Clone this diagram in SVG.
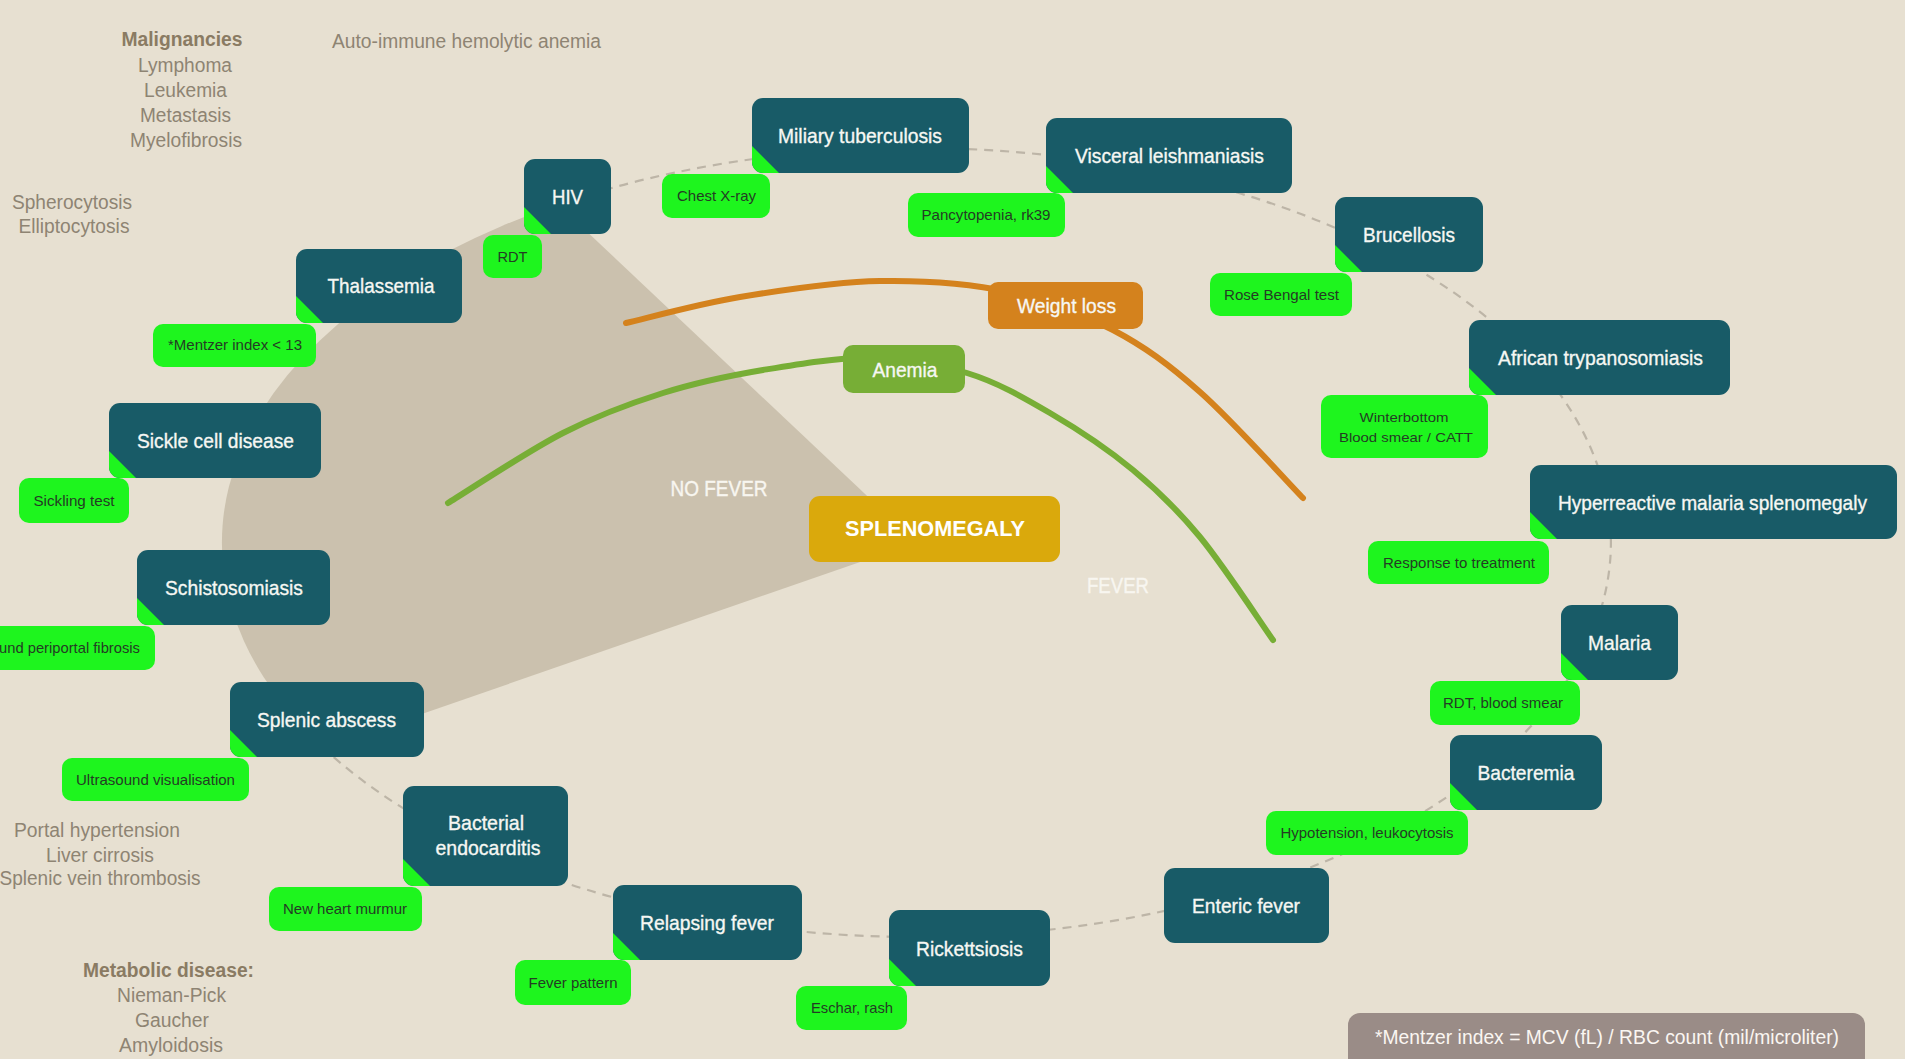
<svg xmlns="http://www.w3.org/2000/svg" width="1905" height="1059" viewBox="0 0 1905 1059">
  <defs>
    <style>
      text { font-family: "Liberation Sans Narrow", "Liberation Sans", Arial, sans-serif; }
      .bg { fill: #E7E0D1; }
      .sector { fill: #CBC1AE; }
      .ring { fill: none; stroke: #BDB5A7; stroke-width: 2.2; stroke-dasharray: 9 7; }
      .box { fill: #185B67; }
      .tip { fill: #1EF51E; }
      .badge { fill: #1EF51E; }
      .lbl { font-size: 21px; fill: #F6F7F3; stroke: #F6F7F3; stroke-width: 0.35; text-anchor: middle; }
      .tag { font-size: 14.5px; fill: #243C24; text-anchor: middle; }
      .tag2 { font-size: 13.5px; fill: #243C24; text-anchor: middle; }
      .side { font-size: 19.5px; fill: #8E8473; text-anchor: middle; }
      .head { font-size: 20px; font-weight: bold; fill: #8A7B63; text-anchor: middle; }
      .zone { font-size: 22px; fill: #F8F6F0; stroke: #F8F6F0; stroke-width: 0.4; text-anchor: middle; }
      .weight { fill: none; stroke: #D4821D; stroke-width: 6; stroke-linecap: round; }
      .anemia { fill: none; stroke: #77AE36; stroke-width: 6; stroke-linecap: round; }
    </style>
  </defs>

  <!-- page -->
  <rect class="bg" x="0" y="0" width="1905" height="1059"/>

  <!-- "no fever" wedge of the splenomegaly ellipse -->
  <path class="sector" d="M916.5,542.5 L558.2,204.5 A694.5,394.5 0 0 0 323.6,748 Z"/>

  <!-- side notes -->
  <g id="notes">
    <text class="head" x="182" y="46" textLength="121" lengthAdjust="spacingAndGlyphs">Malignancies</text>
    <text class="side" x="185" y="72" textLength="94" lengthAdjust="spacingAndGlyphs">Lymphoma</text>
    <text class="side" x="185.5" y="97" textLength="83" lengthAdjust="spacingAndGlyphs">Leukemia</text>
    <text class="side" x="185.5" y="122" textLength="91" lengthAdjust="spacingAndGlyphs">Metastasis</text>
    <text class="side" x="186" y="147" textLength="112" lengthAdjust="spacingAndGlyphs">Myelofibrosis</text>
    <text class="side" x="466.5" y="48" textLength="269" lengthAdjust="spacingAndGlyphs">Auto-immune hemolytic anemia</text>
    <text class="side" x="72" y="209" textLength="120" lengthAdjust="spacingAndGlyphs">Spherocytosis</text>
    <text class="side" x="74" y="233" textLength="111" lengthAdjust="spacingAndGlyphs">Elliptocytosis</text>
    <text class="side" x="97" y="837" textLength="166" lengthAdjust="spacingAndGlyphs">Portal hypertension</text>
    <text class="side" x="100" y="862" textLength="108" lengthAdjust="spacingAndGlyphs">Liver cirrosis</text>
    <text class="side" x="100" y="885" textLength="201" lengthAdjust="spacingAndGlyphs">Splenic vein thrombosis</text>
    <text class="head" x="168.5" y="977" textLength="171" lengthAdjust="spacingAndGlyphs">Metabolic disease:</text>
    <text class="side" x="171.5" y="1002" textLength="109" lengthAdjust="spacingAndGlyphs">Nieman-Pick</text>
    <text class="side" x="172" y="1027" textLength="74" lengthAdjust="spacingAndGlyphs">Gaucher</text>
    <text class="side" x="171" y="1052" textLength="104" lengthAdjust="spacingAndGlyphs">Amyloidosis</text>
  </g>

  <!-- connectors: dashed ring and the two symptom arcs -->
  <g id="connectors">
    <path class="ring" d="M558.2,204.5 A694.5,394.5 0 1 1 323.6,748"/>
    <path class="weight" d="M626,323 C645,318.7 697.7,304 740,297 C782.3,290 835,281.8 880,281 C925,280.2 971.2,283.8 1010,292 C1048.8,300.2 1081.3,313.3 1113,330 C1144.7,346.7 1168.3,364 1200,392 C1231.7,420 1285.8,480.3 1303,498"/>
    <path class="anemia" d="M448,503 C467.2,491.3 527.2,451.3 563,433 C598.8,414.7 629.7,403.5 663,393 C696.3,382.5 728.5,375.8 763,370 C797.5,364.2 836,357.5 870,358 C904,358.5 937,363.8 967,373 C997,382.2 1022.3,396.8 1050,413 C1077.7,429.2 1108,449.3 1133,470 C1158,490.7 1176.7,508.7 1200,537 C1223.3,565.3 1260.8,622.8 1273,640"/>
  </g>

  <!-- zone labels -->
  <text class="zone" x="719" y="496" textLength="97" lengthAdjust="spacingAndGlyphs">NO FEVER</text>
  <text class="zone" x="1118" y="593" textLength="62" lengthAdjust="spacingAndGlyphs">FEVER</text>

  <!-- central node -->
  <g id="splenomegaly">
    <rect x="809" y="496" width="251" height="66" rx="11" fill="#DAA90C"/>
    <text x="935" y="536" font-size="21.5" font-weight="bold" fill="#FFFFFF" text-anchor="middle" textLength="180" lengthAdjust="spacingAndGlyphs">SPLENOMEGALY</text>
  </g>

  <!-- symptom nodes -->
  <g id="weight-loss">
    <rect x="988" y="282" width="155" height="47" rx="10" fill="#D4821D"/>
    <text class="lbl" x="1066.5" y="313" textLength="99" lengthAdjust="spacingAndGlyphs">Weight loss</text>
  </g>
  <g id="anemia">
    <rect x="843" y="345" width="122" height="48" rx="10" fill="#77AE36"/>
    <text class="lbl" x="905" y="377" textLength="65" lengthAdjust="spacingAndGlyphs">Anemia</text>
  </g>

  <!-- diagnosis nodes, each with its test badge -->
  <g id="hiv">
    <rect class="badge" x="483" y="235" width="59" height="43" rx="10"/>
    <text class="tag" x="512.5" y="261.5" textLength="30" lengthAdjust="spacingAndGlyphs">RDT</text>
    <rect class="box" x="524" y="159" width="87" height="75" rx="11"/>
    <path class="tip" d="M524,207 L551,234 L535,234 A11,11 0 0 1 524,223 Z"/>
    <text class="lbl" x="567.5" y="204" textLength="31" lengthAdjust="spacingAndGlyphs">HIV</text>
  </g>

  <g id="thalassemia">
    <rect class="badge" x="153" y="324" width="163" height="43" rx="10"/>
    <text class="tag" x="235" y="350" textLength="134" lengthAdjust="spacingAndGlyphs">*Mentzer index &lt; 13</text>
    <rect class="box" x="296" y="249" width="166" height="74" rx="11"/>
    <path class="tip" d="M296,296 L323,323 L307,323 A11,11 0 0 1 296,312 Z"/>
    <text class="lbl" x="381" y="293" textLength="107" lengthAdjust="spacingAndGlyphs">Thalassemia</text>
  </g>

  <g id="sickle-cell">
    <rect class="badge" x="19" y="478" width="110" height="45" rx="10"/>
    <text class="tag" x="74" y="505.5" textLength="81" lengthAdjust="spacingAndGlyphs">Sickling test</text>
    <rect class="box" x="109" y="403" width="212" height="75" rx="11"/>
    <path class="tip" d="M109,451 L136,478 L120,478 A11,11 0 0 1 109,467 Z"/>
    <text class="lbl" x="215.5" y="448" textLength="157" lengthAdjust="spacingAndGlyphs">Sickle cell disease</text>
  </g>

  <g id="schistosomiasis">
    <rect class="badge" x="-30" y="626" width="185" height="44" rx="10"/>
    <text class="tag" x="-1" y="653" style="text-anchor:start" textLength="141" lengthAdjust="spacingAndGlyphs">und periportal fibrosis</text>
    <rect class="box" x="137" y="550" width="193" height="75" rx="11"/>
    <path class="tip" d="M137,598 L164,625 L148,625 A11,11 0 0 1 137,614 Z"/>
    <text class="lbl" x="234" y="595" textLength="138" lengthAdjust="spacingAndGlyphs">Schistosomiasis</text>
  </g>

  <g id="splenic-abscess">
    <rect class="badge" x="62" y="758" width="187" height="43" rx="10"/>
    <text class="tag" x="155.5" y="784.5" textLength="159" lengthAdjust="spacingAndGlyphs">Ultrasound visualisation</text>
    <rect class="box" x="230" y="682" width="194" height="75" rx="11"/>
    <path class="tip" d="M230,730 L257,757 L241,757 A11,11 0 0 1 230,746 Z"/>
    <text class="lbl" x="326.5" y="727" textLength="139" lengthAdjust="spacingAndGlyphs">Splenic abscess</text>
  </g>

  <g id="bacterial-endocarditis">
    <rect class="badge" x="269" y="887" width="153" height="44" rx="10"/>
    <text class="tag" x="345" y="914" textLength="124" lengthAdjust="spacingAndGlyphs">New heart murmur</text>
    <rect class="box" x="403" y="786" width="165" height="100" rx="11"/>
    <path class="tip" d="M403,859 L430,886 L414,886 A11,11 0 0 1 403,875 Z"/>
    <text class="lbl" x="486" y="830" textLength="76" lengthAdjust="spacingAndGlyphs">Bacterial</text>
    <text class="lbl" x="488" y="855" textLength="105" lengthAdjust="spacingAndGlyphs">endocarditis</text>
  </g>

  <g id="relapsing-fever">
    <rect class="badge" x="515" y="960" width="116" height="45" rx="10"/>
    <text class="tag" x="573" y="987.5" textLength="89" lengthAdjust="spacingAndGlyphs">Fever pattern</text>
    <rect class="box" x="613" y="885" width="189" height="75" rx="11"/>
    <path class="tip" d="M613,933 L640,960 L624,960 A11,11 0 0 1 613,949 Z"/>
    <text class="lbl" x="707" y="930" textLength="134" lengthAdjust="spacingAndGlyphs">Relapsing fever</text>
  </g>

  <g id="rickettsiosis">
    <rect class="badge" x="796" y="986" width="111" height="44" rx="10"/>
    <text class="tag" x="852" y="1013" textLength="82" lengthAdjust="spacingAndGlyphs">Eschar, rash</text>
    <rect class="box" x="889" y="910" width="161" height="76" rx="11"/>
    <path class="tip" d="M889,959 L916,986 L900,986 A11,11 0 0 1 889,975 Z"/>
    <text class="lbl" x="969.5" y="955.5" textLength="107" lengthAdjust="spacingAndGlyphs">Rickettsiosis</text>
  </g>

  <g id="enteric-fever">
    <rect class="box" x="1164" y="868" width="165" height="75" rx="11"/>
    <text class="lbl" x="1246" y="913" textLength="108" lengthAdjust="spacingAndGlyphs">Enteric fever</text>
  </g>

  <g id="bacteremia">
    <rect class="badge" x="1266" y="811" width="202" height="44" rx="10"/>
    <text class="tag" x="1367" y="838" textLength="173" lengthAdjust="spacingAndGlyphs">Hypotension, leukocytosis</text>
    <rect class="box" x="1450" y="735" width="152" height="75" rx="11"/>
    <path class="tip" d="M1450,783 L1477,810 L1461,810 A11,11 0 0 1 1450,799 Z"/>
    <text class="lbl" x="1526" y="780" textLength="97" lengthAdjust="spacingAndGlyphs">Bacteremia</text>
  </g>

  <g id="malaria">
    <rect class="badge" x="1430" y="681" width="150" height="44" rx="10"/>
    <text class="tag" x="1503" y="708" textLength="120" lengthAdjust="spacingAndGlyphs">RDT, blood smear</text>
    <rect class="box" x="1561" y="605" width="117" height="75" rx="11"/>
    <path class="tip" d="M1561,653 L1588,680 L1572,680 A11,11 0 0 1 1561,669 Z"/>
    <text class="lbl" x="1619.5" y="650" textLength="63" lengthAdjust="spacingAndGlyphs">Malaria</text>
  </g>

  <g id="hyperreactive-malaria-splenomegaly">
    <rect class="badge" x="1368" y="541" width="181" height="43" rx="10"/>
    <text class="tag" x="1459" y="567.5" textLength="152" lengthAdjust="spacingAndGlyphs">Response to treatment</text>
    <rect class="box" x="1530" y="465" width="367" height="74" rx="11"/>
    <path class="tip" d="M1530,512 L1557,539 L1541,539 A11,11 0 0 1 1530,528 Z"/>
    <text class="lbl" x="1712.5" y="509.5" font-size="20" textLength="309" lengthAdjust="spacingAndGlyphs">Hyperreactive malaria splenomegaly</text>
  </g>

  <g id="african-trypanosomiasis">
    <rect class="badge" x="1321" y="395" width="167" height="63" rx="10"/>
    <text class="tag2" x="1404" y="422" textLength="89" lengthAdjust="spacingAndGlyphs">Winterbottom</text>
    <text class="tag2" x="1406" y="442" textLength="134" lengthAdjust="spacingAndGlyphs">Blood smear / CATT</text>
    <rect class="box" x="1469" y="320" width="261" height="75" rx="11"/>
    <path class="tip" d="M1469,368 L1496,395 L1480,395 A11,11 0 0 1 1469,384 Z"/>
    <text class="lbl" x="1600.5" y="365" textLength="205" lengthAdjust="spacingAndGlyphs">African trypanosomiasis</text>
  </g>

  <g id="brucellosis">
    <rect class="badge" x="1210" y="273" width="142" height="43" rx="10"/>
    <text class="tag" x="1281.5" y="299.5" textLength="115" lengthAdjust="spacingAndGlyphs">Rose Bengal test</text>
    <rect class="box" x="1335" y="197" width="148" height="75" rx="11"/>
    <path class="tip" d="M1335,245 L1362,272 L1346,272 A11,11 0 0 1 1335,261 Z"/>
    <text class="lbl" x="1409" y="242" textLength="92" lengthAdjust="spacingAndGlyphs">Brucellosis</text>
  </g>

  <g id="visceral-leishmaniasis">
    <rect class="badge" x="908" y="193" width="157" height="44" rx="10"/>
    <text class="tag" x="986" y="220" textLength="129" lengthAdjust="spacingAndGlyphs">Pancytopenia, rk39</text>
    <rect class="box" x="1046" y="118" width="246" height="75" rx="11"/>
    <path class="tip" d="M1046,166 L1073,193 L1057,193 A11,11 0 0 1 1046,182 Z"/>
    <text class="lbl" x="1169.5" y="163" textLength="189" lengthAdjust="spacingAndGlyphs">Visceral leishmaniasis</text>
  </g>

  <g id="miliary-tuberculosis">
    <rect class="badge" x="662" y="174" width="108" height="44" rx="10"/>
    <text class="tag" x="716.5" y="201" textLength="79" lengthAdjust="spacingAndGlyphs">Chest X-ray</text>
    <rect class="box" x="752" y="98" width="217" height="75" rx="11"/>
    <path class="tip" d="M752,146 L779,173 L763,173 A11,11 0 0 1 752,162 Z"/>
    <text class="lbl" x="860" y="143" textLength="164" lengthAdjust="spacingAndGlyphs">Miliary tuberculosis</text>
  </g>

  <!-- footnote -->
  <g id="footnote">
    <rect x="1348" y="1013" width="517" height="62" rx="12" fill="#9A8C87"/>
    <text x="1607" y="1044" font-size="21" fill="#FAF6F2" text-anchor="middle" textLength="464" lengthAdjust="spacingAndGlyphs">*Mentzer index = MCV (fL) / RBC count (mil/microliter)</text>
  </g>
</svg>
